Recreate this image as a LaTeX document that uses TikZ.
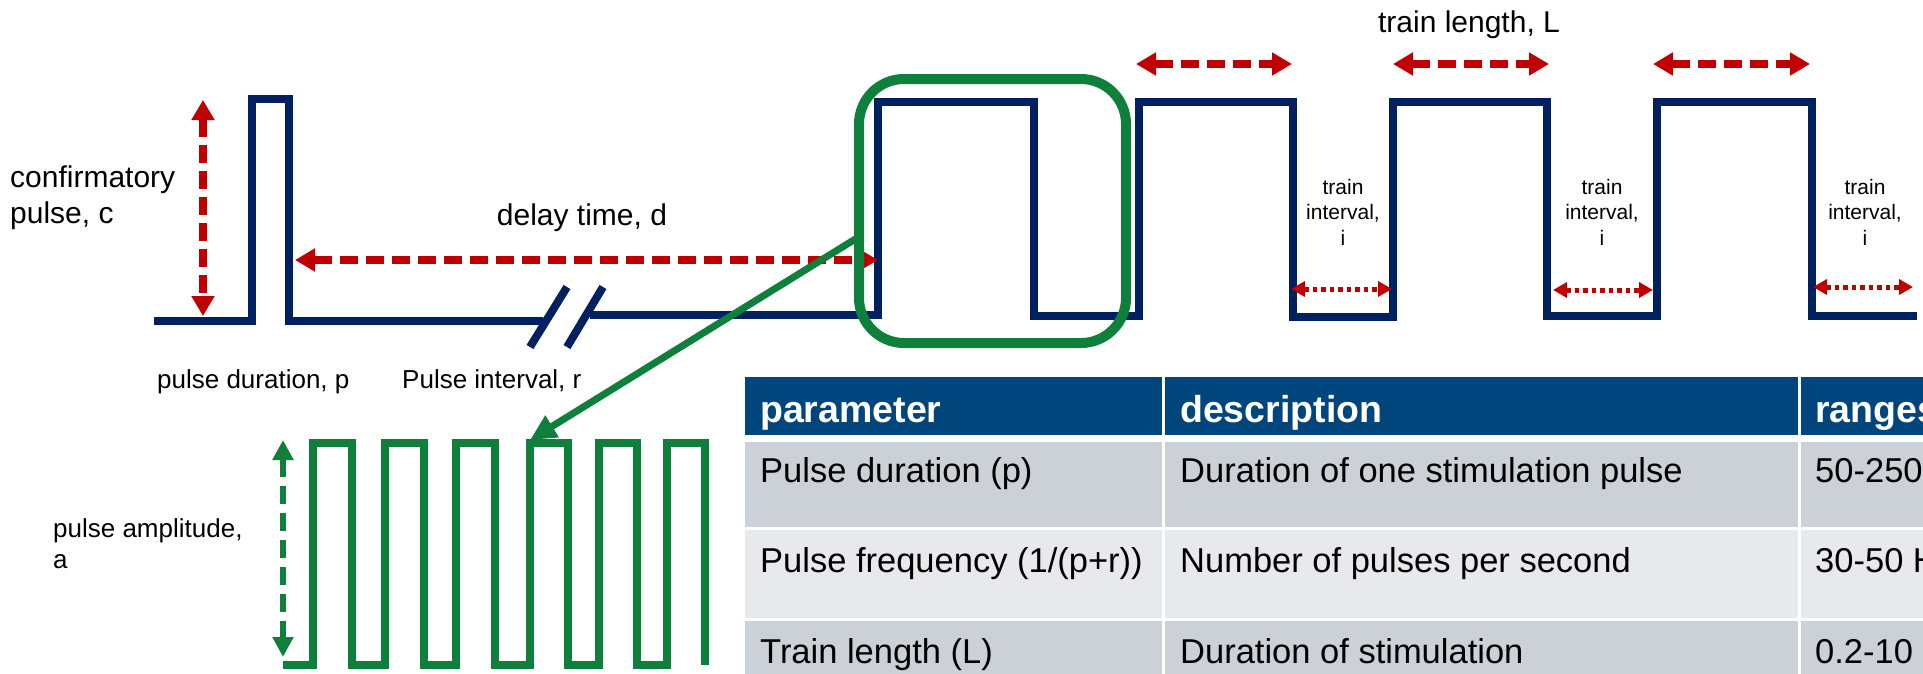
\documentclass[tikz,border=0pt]{standalone}
\usepackage{fontspec}
\setmainfont{Liberation Sans}
\usetikzlibrary{arrows.meta}
\definecolor{navy}{RGB}{0,32,96}
\definecolor{darkred}{RGB}{192,0,0}
\definecolor{pgreen}{RGB}{14,128,59}
\definecolor{hdrblue}{RGB}{0,69,124}
\definecolor{rowa}{RGB}{204,208,215}
\definecolor{rowb}{RGB}{231,233,236}
\begin{document}
\begin{tikzpicture}[x=1pt,y=-1pt,
  wave/.style={navy, line width=8pt, line join=miter},
  gwave/.style={pgreen, line width=8pt, line join=miter},
  rdash/.style={darkred, line width=7.5pt, dash pattern=on 18pt off 8pt,
    {Triangle[length=20pt,width=22pt]}-{Triangle[length=20pt,width=22pt]}},
  rdot/.style={darkred, line width=5pt, dash pattern=on 4.5pt off 4pt,
    {Triangle[length=14pt,width=15pt]}-{Triangle[length=14pt,width=15pt]}},
  gdash/.style={pgreen, line width=6.5pt, dash pattern=on 18pt off 9pt,
    {Triangle[length=20pt,width=20pt]}-{Triangle[length=20pt,width=20pt]}},
  garrow/.style={pgreen, line width=7pt, -{Triangle[length=26pt,width=24pt]}},
  zoombox/.style={pgreen, line width=10pt, rounded corners=45pt},
  lbl/.style={inner sep=0pt, font=\fontsize{26pt}{31pt}\selectfont},
  biglbl/.style={inner sep=0pt, font=\fontsize{30pt}{36pt}\selectfont},
  smalllbl/.style={inner sep=0pt, font=\fontsize{21pt}{25.5pt}\selectfont},
  cell/.style={inner sep=0pt, anchor=base west, font=\fontsize{34.5pt}{40pt}\selectfont},
  hcell/.style={inner sep=0pt, anchor=base west, text=white, font=\fontsize{37.5pt}{44pt}\selectfont\bfseries},
]
\path[use as bounding box] (0,0) rectangle (1923,673);

% ---------- blue waveform ----------
\draw[wave] (154,321) -- (252,321) -- (252,99) -- (289,99) -- (289,321) -- (543,321);
\draw[wave] (530,347) -- (567,287);
\draw[wave] (567,347) -- (603,287);
\draw[wave] (590,315) -- (878,315) -- (878,102) -- (1034,102) -- (1034,316)
  -- (1139,316) -- (1139,102) -- (1293,102) -- (1293,317) -- (1393,317)
  -- (1393,102) -- (1547,102) -- (1547,316) -- (1657,316) -- (1657,102)
  -- (1812,102) -- (1812,316) -- (1917,316);

% ---------- red arrows ----------
\coordinate (cTop) at (203,100); \coordinate (cBot) at (203,316);
\draw[rdash] (cTop) -- (cBot);
\coordinate (dL) at (295,260); \coordinate (dR) at (878,260);
\draw[rdash] (dL) -- (dR);
\coordinate (L1a) at (1136,64); \coordinate (L1b) at (1292,64);
\coordinate (L2a) at (1393,64); \coordinate (L2b) at (1549,64);
\coordinate (L3a) at (1653,64); \coordinate (L3b) at (1810,64);
\draw[rdash] (L1a) -- (L1b);
\draw[rdash] (L2a) -- (L2b);
\draw[rdash] (L3a) -- (L3b);
\coordinate (i1a) at (1291,289); \coordinate (i1b) at (1392,289);
\coordinate (i2a) at (1553,290); \coordinate (i2b) at (1653,290);
\coordinate (i3a) at (1813,287); \coordinate (i3b) at (1913,287);
\draw[rdot] (i1a) -- (i1b);
\draw[rdot] (i2a) -- (i2b);
\draw[rdot] (i3a) -- (i3b);

% ---------- labels ----------
\node[biglbl, anchor=base west] (conf) at (10,187)
  {\begin{tabular}[t]{@{}l@{}}confirmatory\\pulse, c\end{tabular}};
\node[biglbl, anchor=base] (delay) at (582,225) {delay time, d};
\node[biglbl, anchor=base] (trainL) at (1469,32) {train length, L};
\node[smalllbl, anchor=base] (ti1) at (1343,194)
  {\begin{tabular}[t]{@{}c@{}}train\\interval,\\i\end{tabular}};
\node[smalllbl, anchor=base] (ti2) at (1602,194)
  {\begin{tabular}[t]{@{}c@{}}train\\interval,\\i\end{tabular}};
\node[smalllbl, anchor=base] (ti3) at (1865,194)
  {\begin{tabular}[t]{@{}c@{}}train\\interval,\\i\end{tabular}};
\node[lbl, anchor=base west] (pdur) at (157,388) {pulse duration, p};
\node[lbl, anchor=base west] (pint) at (402,388) {Pulse interval, r};
\node[lbl, anchor=base west] (pamp) at (53,537)
  {\begin{tabular}[t]{@{}l@{}}pulse amplitude,\\a\end{tabular}};

% ---------- green zoom ----------
\draw[zoombox] (859,79) rectangle (1126,343);
\coordinate (zFrom) at (857,238);
\coordinate (zTo) at (530,440);
\draw[garrow] (zFrom) -- (zTo);
\coordinate (aTop) at (283,440); \coordinate (aBot) at (283,657);
\draw[gdash] (aTop) -- (aBot);
\draw[gwave] (283,665)
  -- (313,665) -- (313,443) -- (352,443) -- (352,665)
  -- (385,665) -- (385,443) -- (424,443) -- (424,665)
  -- (456,665) -- (456,443) -- (495,443) -- (495,665)
  -- (530,665) -- (530,443) -- (568,443) -- (568,665)
  -- (599,665) -- (599,443) -- (637,443) -- (637,665)
  -- (667,665) -- (667,443) -- (705,443) -- (705,665);

% ---------- table ----------
\fill[hdrblue] (745,377) rectangle (1161.5,435);
\fill[hdrblue] (1164.5,377) rectangle (1797.5,435);
\fill[hdrblue] (1800.5,377) rectangle (1930,435);
\fill[rowa] (745,442) rectangle (1161.5,527);
\fill[rowa] (1164.5,442) rectangle (1797.5,527);
\fill[rowa] (1800.5,442) rectangle (1930,527);
\fill[rowb] (745,529.5) rectangle (1161.5,618);
\fill[rowb] (1164.5,529.5) rectangle (1797.5,618);
\fill[rowb] (1800.5,529.5) rectangle (1930,618);
\fill[rowa] (745,621) rectangle (1161.5,680);
\fill[rowa] (1164.5,621) rectangle (1797.5,680);
\fill[rowa] (1800.5,621) rectangle (1930,680);

\node[hcell] (h1) at (760,422) {parameter};
\node[hcell] (h2) at (1180,422) {description};
\node[hcell] (h3) at (1815,422) {ranges};
\node[cell] (r1a) at (760,482) {Pulse duration (p)};
\node[cell] (r1b) at (1180,482) {Duration of one stimulation pulse};
\node[cell] (r1c) at (1815,482) {50-250};
\node[cell] (r2a) at (760,572) {Pulse frequency (1/(p+r))};
\node[cell] (r2b) at (1180,572) {Number of pulses per second};
\node[cell] (r2c) at (1815,572) {30-50 Hz};
\node[cell] (r3a) at (760,663) {Train length (L)};
\node[cell] (r3b) at (1180,663) {Duration of stimulation};
\node[cell] (r3c) at (1815,663) {0.2-10 s};
\end{tikzpicture}
\end{document}
